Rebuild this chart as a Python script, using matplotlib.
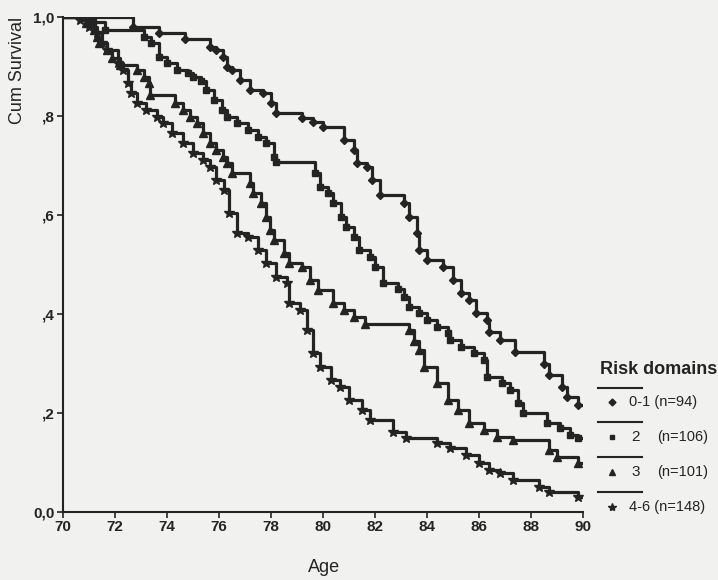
import matplotlib
matplotlib.use("Agg")
import matplotlib.pyplot as plt
from matplotlib.lines import Line2D

plt.rcParams['font.family'] = ['Liberation Sans', 'DejaVu Sans']

# Kaplan-Meier step points: (age, cum survival after the step)
age_01 = [70.0, 72.7, 73.7, 74.7, 75.65, 75.9, 76.15, 76.3, 76.5, 76.8, 77.2, 77.7, 78.0, 78.2,
          79.2, 79.6, 80.0, 80.8, 81.2, 81.3, 81.7, 81.9, 82.2, 83.1, 83.3, 83.6, 83.7, 84.0,
          84.6, 85.0, 85.3, 85.6, 85.9, 86.3, 86.4, 86.8, 87.4, 88.5, 88.7, 89.2, 89.4, 89.8]
surv_01 = [1.0, 0.98, 0.968, 0.955, 0.94, 0.933, 0.92, 0.9, 0.893, 0.873, 0.853, 0.846, 0.826, 0.806,
           0.796, 0.788, 0.778, 0.752, 0.731, 0.705, 0.697, 0.671, 0.64, 0.624, 0.596, 0.564, 0.529, 0.509,
           0.495, 0.469, 0.442, 0.428, 0.402, 0.388, 0.364, 0.347, 0.323, 0.30, 0.277, 0.253, 0.233, 0.216]

age_2 = [70.0, 71.15, 71.6, 73.1, 73.4, 73.7, 74.0, 74.4, 74.8, 75.0, 75.3, 75.5, 75.8, 76.1, 76.3,
         76.7, 77.1, 77.5, 77.8, 78.1, 78.2, 79.7, 79.9, 80.2, 80.4, 80.7, 80.9, 81.2, 81.4, 81.8,
         82.0, 82.3, 82.9, 83.1, 83.3, 83.7, 84.0, 84.4, 84.8, 84.9, 85.3, 85.8, 86.2, 86.3, 86.9,
         87.2, 87.5, 87.7, 88.6, 89.1, 89.5, 89.8]
surv_2 = [1.0, 0.99, 0.974, 0.96, 0.947, 0.92, 0.907, 0.893, 0.886, 0.879, 0.87, 0.853, 0.832, 0.812, 0.798,
          0.786, 0.772, 0.758, 0.745, 0.717, 0.707, 0.685, 0.657, 0.644, 0.624, 0.596, 0.576, 0.556, 0.529, 0.515,
          0.495, 0.463, 0.45, 0.434, 0.414, 0.402, 0.388, 0.374, 0.362, 0.347, 0.333, 0.321, 0.307, 0.273, 0.26,
          0.246, 0.22, 0.2, 0.18, 0.17, 0.156, 0.15]

age_3 = [70.0, 70.9, 71.2, 71.3, 71.4, 71.7, 71.9, 72.2, 72.85, 73.1, 73.3, 73.35, 74.3, 74.6, 74.9,
         75.15, 75.4, 75.65, 75.9, 76.15, 76.3, 76.5, 77.2, 77.3, 77.6, 77.8, 77.95, 78.1, 78.5, 78.7,
         79.2, 79.5, 79.8, 80.4, 80.8, 81.2, 81.6, 83.3, 83.5, 83.7, 83.9, 84.4, 84.8, 85.2, 85.6,
         86.2, 86.7, 87.3, 88.7, 89.0, 89.8]
surv_3 = [1.0, 0.988, 0.974, 0.96, 0.947, 0.933, 0.917, 0.903, 0.893, 0.879, 0.867, 0.842, 0.826, 0.812, 0.798,
          0.786, 0.766, 0.745, 0.731, 0.717, 0.705, 0.685, 0.665, 0.644, 0.624, 0.596, 0.57, 0.55, 0.523, 0.503,
          0.495, 0.469, 0.448, 0.422, 0.408, 0.394, 0.38, 0.368, 0.345, 0.327, 0.293, 0.26, 0.226, 0.206, 0.18,
          0.166, 0.152, 0.145, 0.125, 0.111, 0.099]

age_46 = [70.0, 70.65, 71.0, 71.3, 71.5, 71.7, 72.1, 72.3, 72.5, 72.6, 72.85, 73.2, 73.6, 73.85, 74.2,
          74.6, 75.0, 75.4, 75.65, 75.9, 76.2, 76.4, 76.7, 77.1, 77.5, 77.8, 78.2, 78.6, 78.7, 79.1,
          79.4, 79.6, 79.9, 80.3, 80.65, 81.0, 81.5, 81.8, 82.7, 83.2, 84.4, 84.9, 85.5, 86.0, 86.4,
          86.8, 87.3, 88.3, 88.7, 89.8]
surv_46 = [1.0, 0.994, 0.98, 0.968, 0.947, 0.933, 0.907, 0.893, 0.867, 0.846, 0.826, 0.812, 0.798, 0.786, 0.766,
           0.745, 0.725, 0.711, 0.697, 0.671, 0.65, 0.604, 0.564, 0.556, 0.529, 0.503, 0.475, 0.463, 0.422, 0.408,
           0.368, 0.321, 0.293, 0.267, 0.253, 0.226, 0.206, 0.186, 0.162, 0.149, 0.139, 0.129, 0.115, 0.099, 0.085,
           0.079, 0.065, 0.051, 0.04, 0.03]

groups = ['0-1', '2', '3', '4-6']
group_n = ['(n=94)', '(n=106)', '(n=101)', '(n=148)']
xticks = [70, 72, 74, 76, 78, 80, 82, 84, 86, 88, 90]
yticks = [0.0, 0.2, 0.4, 0.6, 0.8, 1.0]
ytick_labels = ['0,0', ',2', ',4', ',6', ',8', '1,0']

ink = '#242424'
paper = '#f1f1ef'

fig = plt.figure(figsize=(7.18, 5.80), dpi=100, facecolor=paper)
ax = fig.add_axes([63 / 718, 1 - 512 / 580, 520 / 718, 495 / 580])
ax.set_facecolor(paper)

series = [(age_01, surv_01, 'D', 4.5), (age_2, surv_2, 's', 4.5),
          (age_3, surv_3, '^', 5.5), (age_46, surv_46, '*', 7)]
for ages, surv, mk, ms in series:
    ax.plot(ages + [90.0], surv + [surv[-1]], drawstyle='steps-post', color=ink, lw=2.3)
    ax.plot(ages[1:], surv[1:], ls='none', marker=mk, ms=ms, color=ink, mec=ink)

ax.set_xlim(70, 90)
ax.set_ylim(0, 1.0)
for s in ['top', 'right']:
    ax.spines[s].set_visible(False)
for s in ['left', 'bottom']:
    ax.spines[s].set_color(ink)
    ax.spines[s].set_linewidth(1.5)
ax.set_xticks(xticks)
ax.set_xticklabels([str(t) for t in xticks], fontsize=11, fontweight='bold', color=ink)
ax.set_yticks(yticks)
ax.set_yticklabels(ytick_labels, fontsize=11, fontweight='bold', color=ink)
ax.tick_params(direction='out', length=4, width=1.2, color=ink, pad=2)

fig.text(324 / 718, 1 - 568 / 580, 'Age', ha='center', va='center', fontsize=13, color=ink)
fig.text(18 / 718, 1 - 17 / 580, 'Cum Survival', rotation=90, ha='center', va='top',
         fontsize=13, color=ink)

# legend drawn by hand (SPSS layout: line sample above marker + label)
fig.text(600 / 718, 1 - 370 / 580, 'Risk domains', ha='left', va='center', fontsize=13,
         fontweight='bold', color=ink)
line_y = [388, 422, 457, 492]
entry_y = [402, 437, 472, 507]
for i, (grp, n) in enumerate(zip(groups, group_n)):
    ly = 1 - line_y[i] / 580
    ey = 1 - entry_y[i] / 580
    fig.add_artist(Line2D([598 / 718, 642 / 718], [ly, ly], color=ink, lw=1.5))
    fig.add_artist(Line2D([612 / 718], [ey], marker=series[i][2], ms=series[i][3] - 1,
                          color=ink, ls='none'))
    if grp in ('2', '3'):
        fig.text(631 / 718, ey, grp, ha='left', va='center', fontsize=11, color=ink)
        fig.text(657 / 718, ey, n, ha='left', va='center', fontsize=10.5, color=ink)
    else:
        fig.text(629 / 718, ey, grp + ' ' + n, ha='left', va='center', fontsize=10.5, color=ink)

fig.savefig('out.png', dpi=100, facecolor=paper)
